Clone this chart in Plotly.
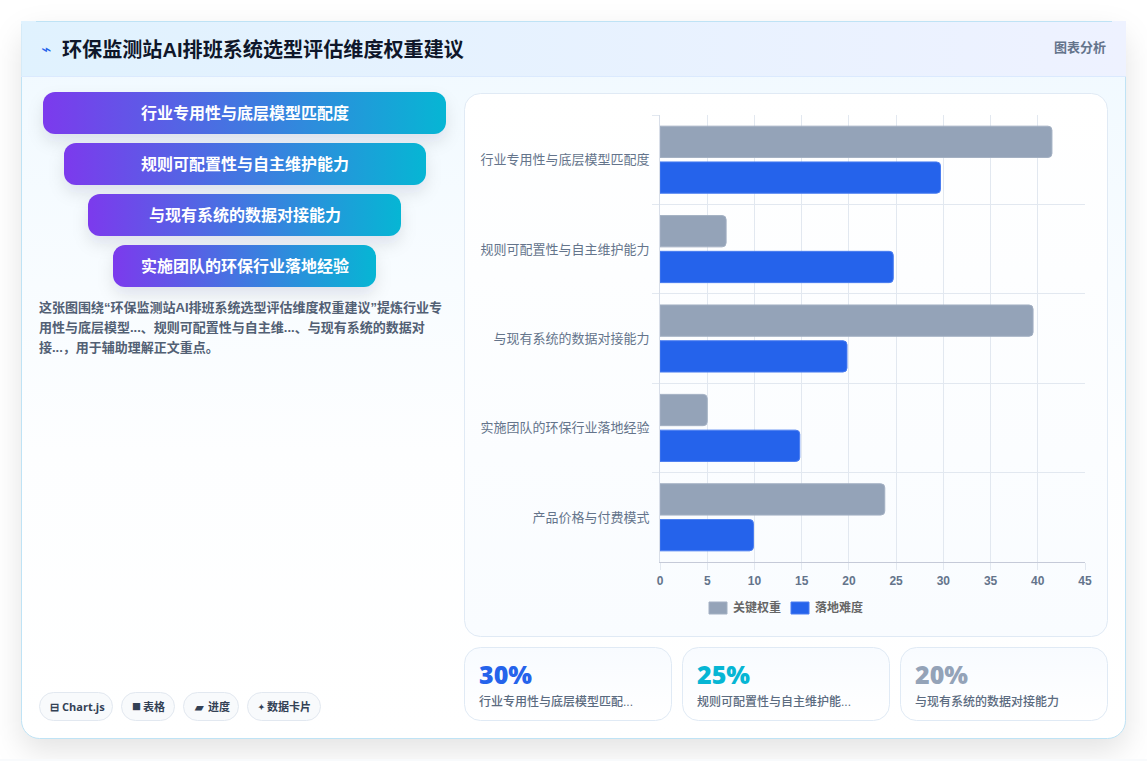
import base64
import plotly.graph_objects as go

W, H = 1147, 761

# Chart data
categories = ["行业专用性与底层模型匹配度", "规则可配置性与自主维护能力", "与现有系统的数据对接能力",
              "实施团队的环保行业落地经验", "产品价格与付费模式"]
key_weight = [41.5, 7, 39.5, 5, 23.8]
difficulty = [29.7, 24.7, 19.8, 14.8, 9.9]
x_ticks = [0, 5, 10, 15, 20, 25, 30, 35, 40, 45]
series_names = ["关键权重", "落地难度"]

# Text content
title_text = "环保监测站AI排班系统选型评估维度权重建议"
badge_text = "图表分析"
funnel_labels = categories[:4]
desc_lines = ["这张图围绕“环保监测站AI排班系统选型评估维度权重建议”提炼行业专",
              "用性与底层模型...、规则可配置性与自主维...、与现有系统的数据对",
              "接...，用于辅助理解正文重点。"]
chip_icons = ["⊟", "■", "▰", "✦"]
chip_texts = ["Chart.js", "表格", "进度", "数据卡片"]
stat_values = ["30%", "25%", "20%"]
stat_labels = ["行业专用性与底层模型匹配...", "规则可配置性与自主维护能...", "与现有系统的数据对接能力"]

# Palette
GRAY, BLUE, CYAN = "#94a3b8", "#2563eb", "#06b6d4"
FONT = "'Open Sans', 'Noto Sans CJK SC', sans-serif"
LATIN = "'Liberation Sans', 'Noto Sans CJK SC', sans-serif"

# Page furniture as an SVG backdrop, since layout shapes cannot carry gradients or soft shadows
funnel_boxes = [(43, 92, 403), (64, 143, 362), (88, 194, 313), (113, 245, 263)]
chip_boxes = [(39, 74, 23, 11), (121, 54, 22, 9), (183, 56, 25, 11), (247, 74, 20, 8)]
stat_boxes = [464, 682, 900]

svg = [f'''<svg xmlns="http://www.w3.org/2000/svg" width="{W}" height="{H}" viewBox="0 0 {W} {H}">
<defs>
<linearGradient id="head" x1="0" y1="0" x2="1" y2="0"><stop offset="0" stop-color="#e0f2fe"/><stop offset="1" stop-color="#eef2ff"/></linearGradient>
<linearGradient id="body" x1="0" y1="0" x2="0" y2="1"><stop offset="0" stop-color="#f0f9ff"/><stop offset="0.6" stop-color="#fdfeff"/><stop offset="1" stop-color="#ffffff"/></linearGradient>
<linearGradient id="panel" x1="0" y1="0" x2="0" y2="1"><stop offset="0" stop-color="#ffffff"/><stop offset="1" stop-color="#f9fcff"/></linearGradient>
<linearGradient id="stat" x1="0" y1="0" x2="0" y2="1"><stop offset="0" stop-color="#f8fbff"/><stop offset="1" stop-color="#ffffff"/></linearGradient>
<linearGradient id="pill" x1="0" y1="0" x2="1" y2="0"><stop offset="0" stop-color="#7c3aed"/><stop offset="1" stop-color="#06b6d4"/></linearGradient>
<filter id="soft" x="-20%" y="-20%" width="140%" height="140%"><feGaussianBlur stdDeviation="15"/></filter>
<filter id="softer" x="-20%" y="-60%" width="140%" height="220%"><feGaussianBlur stdDeviation="8"/></filter>
</defs>
<rect width="{W}" height="{H}" fill="#ffffff"/>
<rect x="21" y="33" width="1105" height="718" rx="18" fill="#111111" fill-opacity="0.11" filter="url(#soft)"/>
<rect x="0" y="759" width="{W}" height="2" fill="#f8fafc"/>
<rect x="21.5" y="21.5" width="1104" height="717" rx="18" fill="url(#body)" stroke="#bfe3f5"/>
<rect x="21" y="21" width="1105" height="55" fill="url(#head)"/>
<path d="M21 76.5H1126" stroke="#dbeafe"/>
<path d="M36 21.5H1112" stroke="#bfe3f5"/>
<path d="M21.5 24V76" stroke="#d5ebf8"/>
<rect x="464.5" y="93.5" width="643" height="543" rx="16" fill="url(#panel)" stroke="#e0eaf5"/>
''']
for x, y, w in funnel_boxes:
    svg.append(f'<rect x="{x}" y="{y + 8}" width="{w}" height="42" rx="12" fill="#0f172a" fill-opacity="0.10" filter="url(#softer)"/>')
for x, y, w in funnel_boxes:
    svg.append(f'<rect x="{x}" y="{y}" width="{w}" height="42" rx="12" fill="url(#pill)"/>')
for x in stat_boxes:
    svg.append(f'<rect x="{x + .5}" y="647.5" width="207" height="73" rx="16" fill="url(#stat)" stroke="#e0eaf5"/>')
for x, w, _, _ in chip_boxes:
    svg.append(f'<rect x="{x + .5}" y="692.5" width="{w - 1}" height="28" rx="14" fill="#f8fafc" stroke="#e2e8f0"/>')
svg.append("</svg>")
backdrop = "data:image/svg+xml;base64," + base64.b64encode("".join(svg).encode()).decode()

# Plot area bounds in pixels
PL, PR, PT, PB = 660, 1085, 115, 562

fig = go.Figure()
fig.add_bar(y=categories, x=key_weight, name=series_names[0], orientation="h",
            marker=dict(color=GRAY, line=dict(color="#a3b0c3", width=1)))
fig.add_bar(y=categories, x=difficulty, name=series_names[1], orientation="h",
            marker=dict(color=BLUE, line=dict(color="#4a7df0", width=1)))


def px(x):
    return x / W


def py(y):
    return 1 - y / H


def label(x, y, text, size, color, weight=400, anchor="left", family=LATIN):
    fig.add_annotation(xref="paper", yref="paper", x=px(x), y=py(y), text=text, showarrow=False,
                       xanchor=anchor, yanchor="middle", align=anchor, borderpad=0, borderwidth=0,
                       font=dict(size=size, color=color, weight=weight, family=family))


label(41, 49, "⌁", 17, BLUE, family="'DejaVu Sans'")
label(62, 49, title_text, 20.1, "#0f172a", 700)
label(1106, 48, badge_text, 13, "#64748b", 600, "right")

for (x, y, w), text in zip(funnel_boxes, funnel_labels):
    label(245, y + 21, text, 16, "#ffffff", 700, "center")

for i, line in enumerate(desc_lines):
    label(39, 307 + i * 20.4, line, 13, "#526074", 600)

for (x, w, offset, icon_size), icon, text in zip(chip_boxes, chip_icons, chip_texts):
    label(x + 11, 706.5, icon, icon_size, "#334155", 700, family=FONT)
    label(x + offset, 706.5, text, 11, "#334155", 700, family=FONT)

for x, value, text, color in zip(stat_boxes, stat_values, stat_labels, [BLUE, CYAN, GRAY]):
    label(x + 15, 674, value, 25, color, 800, family=FONT)
    label(x + 15, 701, text, 12, "#5b6b80", 500)

# Legend keys
for x, name, color, line in zip([709, 791], series_names, [GRAY, BLUE], ["#a3b0c3", "#4a7df0"]):
    fig.add_shape(type="rect", xref="paper", yref="paper", x0=px(x), x1=px(x + 18), y0=py(602), y1=py(614),
                  fillcolor=color, line=dict(color=line, width=1))
    label(x + 24, 607, name, 12, "#666666", 600)

fig.update_layout(
    width=W, height=H, autosize=False, margin=dict(l=0, r=0, t=0, b=0, autoexpand=False),
    paper_bgcolor="rgba(0,0,0,0)", plot_bgcolor="rgba(0,0,0,0)",
    barmode="group", bargap=0.2, bargroupgap=0.125, barcornerradius=4, showlegend=False,
    font=dict(family=FONT),
    images=[dict(source=backdrop, xref="paper", yref="paper", x=0, y=1, sizex=1, sizey=1,
                 xanchor="left", yanchor="top", sizing="stretch", layer="below")],
    xaxis=dict(domain=[px(PL), px(PR)], range=[0, 45], tickvals=x_ticks, ticks="outside", ticklen=7,
               tickcolor="#e2e8f0", gridcolor="#e2e8f0", gridwidth=1, zeroline=False, fixedrange=True,
               showline=True, linecolor="#c5cad8", linewidth=1, ticklabelstandoff=1,
               tickfont=dict(size=12, color="#64748b", weight=700, family=LATIN)),
    yaxis=dict(domain=[py(PB), py(PT)], autorange="reversed", type="category", tickson="boundaries",
               ticks="outside", ticklen=7, tickcolor="#e2e8f0", gridcolor="#e2e8f0", gridwidth=1,
               showline=True, linecolor="#d8dee8", linewidth=1, fixedrange=True, ticklabelstandoff=7,
               tickfont=dict(size=13, color="#64748b", family=LATIN)),
)

fig.write_html("out.html", config={"displayModeBar": False})
